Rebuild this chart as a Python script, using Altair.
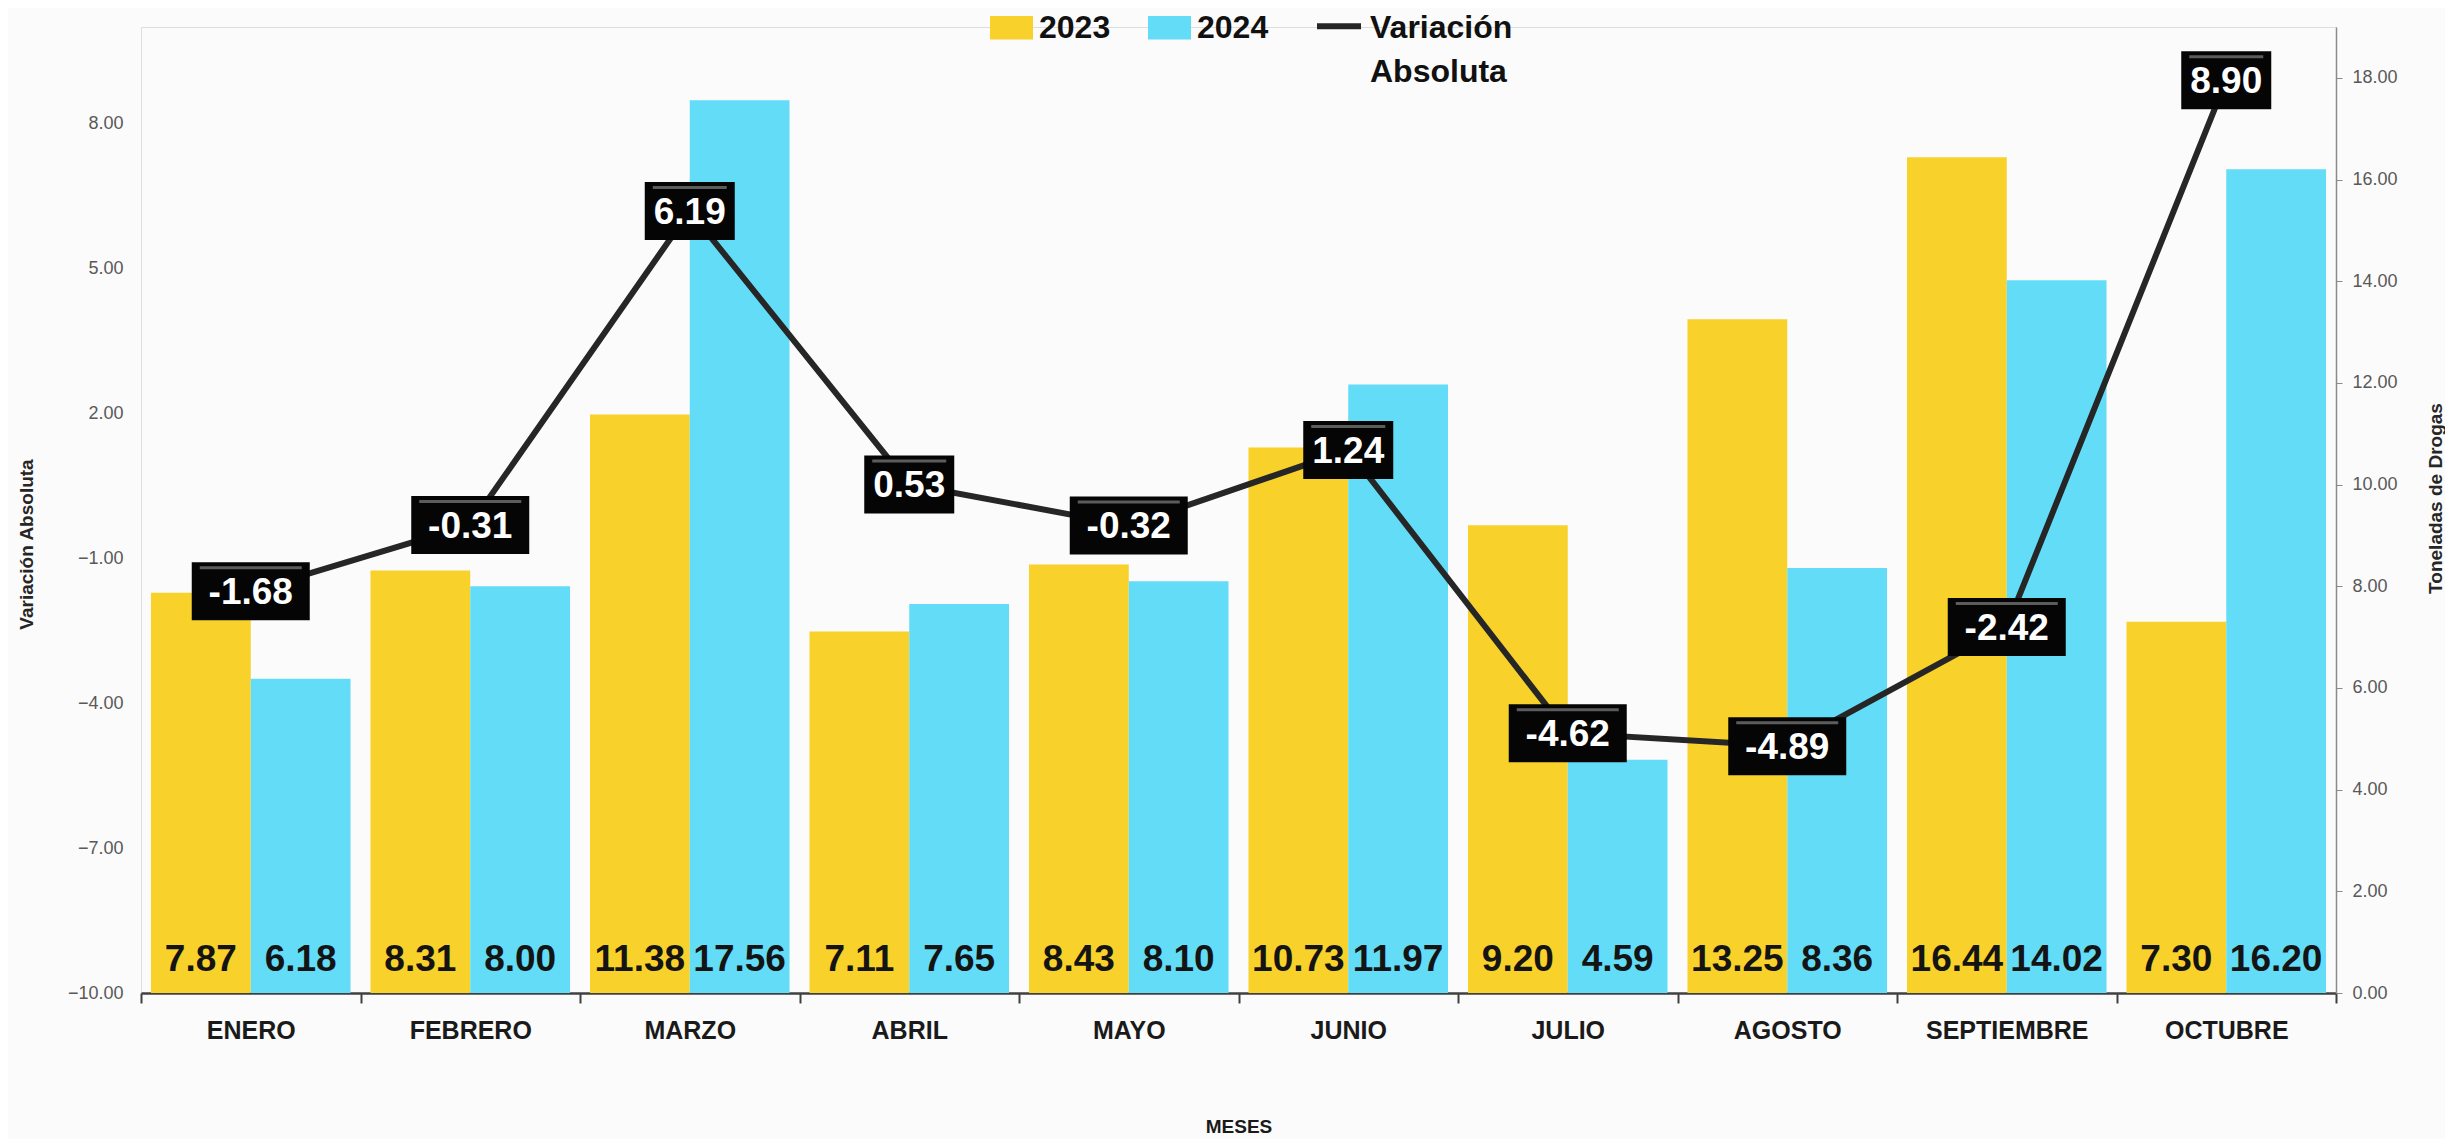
import altair as alt
import pandas as pd

months = ["ENERO", "FEBRERO", "MARZO", "ABRIL", "MAYO", "JUNIO",
          "JULIO", "AGOSTO", "SEPTIEMBRE", "OCTUBRE"]
years = ["2023", "2024"]
ton_2023 = [7.87, 8.31, 11.38, 7.11, 8.43, 10.73, 9.20, 13.25, 16.44, 7.30]
ton_2024 = [6.18, 8.00, 17.56, 7.65, 8.10, 11.97, 4.59, 8.36, 14.02, 16.20]
variacion = [-1.68, -0.31, 6.19, 0.53, -0.32, 1.24, -4.62, -4.89, -2.42, 8.90]
left_ticks = [-10, -7, -4, -1, 2, 5, 8]
right_ticks = [0, 2, 4, 6, 8, 10, 12, 14, 16, 18]
serie_name = "Variación Absoluta"

FONT = "Liberation Sans"
W, H = 2195, 966

bars_df = pd.DataFrame(
    [{"mes": m, "year": "2023", "ton": v} for m, v in zip(months, ton_2023)]
    + [{"mes": m, "year": "2024", "ton": v} for m, v in zip(months, ton_2024)]
)
line_df = pd.DataFrame({"mes": months, "var": variacion})
line_df["label"] = [f"{v:.2f}" for v in variacion]
line_df["serie"] = serie_name

x_enc = alt.X(
    "mes:N", sort=months,
    scale=alt.Scale(domain=months, paddingInner=0, paddingOuter=0),
    axis=alt.Axis(
        title="MESES", labelAngle=0, tickBand="extent",
        domainColor="#404040", domainWidth=2.5, tickColor="#404040",
        tickWidth=2, tickSize=10, labelFont=FONT, labelFontSize=25,
        labelFontWeight="bold", labelColor="#1a1a1a", labelPadding=15,
        titleFont=FONT, titleFontSize=19, titleFontWeight="bold",
        titleColor="#1a1a1a", titleY=133, titleBaseline="middle",
        grid=False,
    ),
)
xoff_enc = alt.XOffset(
    "year:N", sort=years,
    scale=alt.Scale(domain=years, paddingInner=0, paddingOuter=0.1),
)
y_right = alt.Y(
    "ton:Q",
    scale=alt.Scale(domain=[0, 19], nice=False),
    axis=alt.Axis(
        orient="right", values=right_ticks, format=".2f",
        title="Toneladas de Drogas", grid=False,
        domainColor="#8a8a8a", domainWidth=1.5, tickColor="#8a8a8a",
        tickSize=6, labelPadding=10, labelFont=FONT, labelFontSize=18,
        labelColor="#595959", titleFont=FONT, titleFontSize=19,
        titleFontWeight="bold", titleColor="#262626", titleAngle=270,
        titleX=99, titleY=471, titleAlign="center", titleBaseline="middle",
    ),
)
y_left = alt.Y(
    "var:Q",
    scale=alt.Scale(domain=[-10, 10], nice=False),
    axis=alt.Axis(
        orient="left", values=left_ticks, format=".2f",
        title="Variación Absoluta", grid=False, domain=False, ticks=False,
        labelPadding=18, labelFont=FONT, labelFontSize=18,
        labelColor="#595959", titleFont=FONT, titleFontSize=19,
        titleFontWeight="bold", titleColor="#262626", titleAngle=270,
        titleX=-115, titleY=517, titleAlign="center", titleBaseline="middle",
    ),
)

bars = alt.Chart(bars_df).mark_bar().encode(
    x=x_enc,
    xOffset=xoff_enc,
    y=y_right,
    color=alt.Color(
        "year:N",
        scale=alt.Scale(domain=years, range=["#F8D12B", "#63DCF8"]),
        legend=alt.Legend(
            title=None, orient="none", legendX=849, legendY=-21,
            direction="horizontal", padding=0,
            symbolType="M-1,-0.55L1,-0.55L1,0.55L-1,0.55Z", symbolSize=1849,
            symbolStrokeWidth=0, labelFont=FONT, labelFontSize=32,
            labelFontWeight="bold", labelColor="#111111", labelOffset=6,
            columnPadding=37,
        ),
    ),
)
bar_text = alt.Chart(bars_df).mark_text(
    baseline="bottom", dy=-14, font=FONT, fontSize=37, fontWeight="bold",
    color="#141414",
).encode(
    x=x_enc,
    xOffset=xoff_enc,
    y=alt.datum(0),
    text=alt.Text("ton:Q", format=".2f"),
)

line = alt.Chart(line_df).mark_line(strokeWidth=6).encode(
    x=x_enc,
    y=y_left,
    stroke=alt.Stroke(
        "serie:N",
        scale=alt.Scale(domain=[serie_name], range=["#262626"]),
        legend=alt.Legend(
            title=None, orient="none", legendX=1173, legendY=-39, padding=0,
            symbolType="M-1,0.6L1,0.6", symbolSize=1936, symbolStrokeWidth=6,
            labelFont=FONT, labelFontSize=32, labelFontWeight="bold",
            labelColor="#111111", labelOffset=6, labelLimit=400,
            labelBaseline="top", labelExpr="split(datum.label, ' ')",
        ),
    ),
)


def box(width, cond):
    base = alt.Chart(line_df).transform_filter(cond)
    rect = base.mark_rect(
        width=width, color="#050505", yOffset=-29, y2Offset=29,
    ).encode(x=x_enc, y=y_left, y2="var:Q")
    bevel = base.mark_rect(
        width=width - 16, color="#5c5c5c", yOffset=-25, y2Offset=-22,
    ).encode(x=x_enc, y=y_left, y2="var:Q")
    return rect + bevel


boxes_short = box(90, "length(datum.label) <= 4")
boxes_long = box(118, "length(datum.label) > 4")
box_text = alt.Chart(line_df).mark_text(
    font=FONT, fontSize=37, fontWeight="bold", color="white",
    baseline="middle", dy=2,
).encode(x=x_enc, y=y_left, text="label:N")

bar_group = alt.layer(bars, bar_text)
line_group = alt.layer(line, boxes_short, boxes_long, box_text)

chart = (
    alt.layer(bar_group, line_group)
    .resolve_scale(y="independent")
    .properties(
        width=W, height=H,
        autosize=alt.AutoSizeParams(type="none"),
        padding={"left": 133, "top": 19, "right": 109, "bottom": 146},
        background="#fbfbfb",
    )
    .configure_view(strokeWidth=0, fill="white")
    .configure(style={"guide-label": {"lineHeight": 44}})
)

chart.save("out.html", embed_options={"renderer": "svg", "actions": False})
